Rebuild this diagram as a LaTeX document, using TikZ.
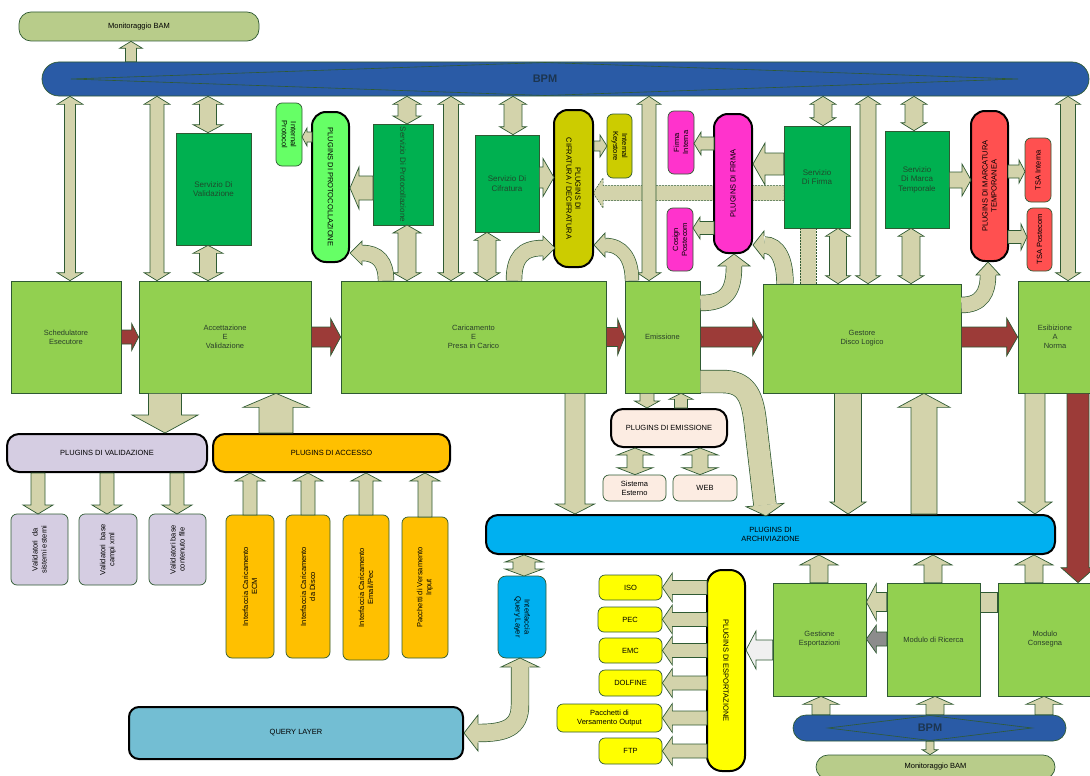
\documentclass[tikz,border=0pt]{standalone}
\usepackage{fontspec}
\setmainfont{Liberation Sans}
\usetikzlibrary{calc}
\definecolor{dkg}{HTML}{2F5A33}
\definecolor{tanc}{HTML}{D3D3AB}
\definecolor{redc}{HTML}{9C3B38}
\definecolor{procg}{HTML}{92D050}
\definecolor{servg}{HTML}{00B050}
\definecolor{monc}{HTML}{B8CC8A}
\definecolor{bpmc}{HTML}{2A5BA6}
\definecolor{lav}{HTML}{D5CDE2}
\definecolor{orng}{HTML}{FFC000}
\definecolor{peach}{HTML}{FCECE2}
\definecolor{archb}{HTML}{00B0F0}
\definecolor{qlb}{HTML}{73BED3}
\definecolor{mag}{HTML}{FF33CC}
\definecolor{redp}{HTML}{FF5050}
\definecolor{olive}{HTML}{CCCC00}
\definecolor{lgreen}{HTML}{66FF66}
\definecolor{yel}{HTML}{FFFF00}
\definecolor{greyarr}{HTML}{8C8C8C}
\definecolor{lgrey}{HTML}{F0F0F0}
\definecolor{txtg}{HTML}{2A3F2A}
\definecolor{txts}{HTML}{1F4A2C}
\definecolor{bpmtxt}{HTML}{1C3550}
% single block arrow: [opts]{from}{to}{half shaft}{half head}{head length}
\newcommand\blkA[6][]{%
 \path (#2) coordinate (bkA) (#3) coordinate (bkB);
 \path ($(bkB)!#6pt!(bkA)$) coordinate (bkHb);
 \filldraw[blk,#1] ($(bkA)!#4pt!90:(bkB)$) -- ($(bkHb)!#4pt!90:(bkB)$) -- ($(bkHb)!#5pt!90:(bkB)$) -- (bkB) -- ($(bkHb)!#5pt!-90:(bkB)$) -- ($(bkHb)!#4pt!-90:(bkB)$) -- ($(bkA)!#4pt!-90:(bkB)$) -- cycle;
}
% double block arrow
\newcommand\blkD[6][]{%
 \path (#2) coordinate (bkA) (#3) coordinate (bkB);
 \path ($(bkB)!#6pt!(bkA)$) coordinate (bkHb) ($(bkA)!#6pt!(bkB)$) coordinate (bkHa);
 \filldraw[blk,#1] (bkA) -- ($(bkHa)!#5pt!90:(bkB)$) -- ($(bkHa)!#4pt!90:(bkB)$) -- ($(bkHb)!#4pt!90:(bkB)$) -- ($(bkHb)!#5pt!90:(bkB)$) -- (bkB) -- ($(bkHb)!#5pt!-90:(bkB)$) -- ($(bkHb)!#4pt!-90:(bkB)$) -- ($(bkHa)!#4pt!-90:(bkB)$) -- ($(bkHa)!#5pt!-90:(bkB)$) -- cycle;
}
% head for a curved band: {base}{tip}{half shaft}{half head}
\newcommand\bhead[4]{%
 \path (#1) coordinate (bhB) (#2) coordinate (bhT);
 \fill[tanc] ($(bhB)!#4pt!90:(bhT)$) -- (bhT) -- ($(bhB)!#4pt!-90:(bhT)$) -- cycle;
 \draw[dkg, line width=0.7pt] ($(bhB)!#3pt!90:(bhT)$) -- ($(bhB)!#4pt!90:(bhT)$) -- (bhT) -- ($(bhB)!#4pt!-90:(bhT)$) -- ($(bhB)!#3pt!-90:(bhT)$);
}
\tikzset{
 base/.style={align=center, inner sep=0pt, line width=0.7pt, draw=dkg, text=black},
 sz/.style 2 args={minimum width=#1pt, minimum height=#2pt},
 proc/.style={base, fill=procg, text=txtg},
 serv/.style={base, fill=servg, text=txts, font=\fontsize{8}{9.5}\selectfont},
 rsm/.style={base, rounded corners=6pt},
 plug/.style={base, draw=black, line width=2pt, rounded corners=#1pt},
 plug/.default=14,
 mon/.style={base, fill=monc, rounded corners=12pt},
 bpmbar/.style={base, fill=bpmc, rounded corners=17pt},
 bpmlab/.style={inner sep=0pt, text=bpmtxt, font=\bfseries\fontsize{11}{12}\selectfont},
 blk/.style={fill=tanc, draw=dkg, line width=0.7pt},
 redblk/.style={fill=redc},
 dashblk/.style={dash pattern=on 2pt off 1pt, line width=0.5pt},
 band/.style={draw=dkg, line width=0.7pt, double=tanc, double distance=#1pt},
}
\begin{document}
\begin{tikzpicture}[x=1pt,y=-1pt, font=\fontsize{7.5}{9}\selectfont]
\useasboundingbox (0,0) rectangle (1090,776);
\clip (0,0) rectangle (1090,776);

% dashed connectors (under the nodes)
\blkA[dashblk]{784,193}{593,193}{7.5}{15}{10}
\filldraw[blk,dashblk] (800,228) rectangle (816,284);

% ---------- top ----------
\node[mon, sz={240}{29}] (mon1) at (139,26.5) {Monitoraggio BAM};
\node[bpmbar, sz={1047}{34}] (bpm1) at (565.5,79) {};
\draw[dkg, line width=0.6pt] (71,79) -- (545,62.5) -- (1018,79) -- (545,95.5) -- cycle;
\node[bpmlab] (bpmt1) at (545,78.5) {BPM};

\node[serv, sz={75}{112}] (valsrv) at (213.5,189) {Servizio Di\\Validazione};
\node[rsm, fill=lgreen, rotate=-90, sz={63}{26}] (intprot) at (289,134.5) {Internal\\Protocol};
\node[plug, fill=lgreen, rotate=-90, sz={150}{37}] (plugproto) at (330.5,187) {PLUGINS DI PROTOCOLLAZIONE};
\node[serv, rotate=-90, sz={101}{60}] (servprot) at (403,174.5) {Servizio Di Protocollazione};
\node[serv, sz={64}{97}] (servcif) at (507,183.5) {Servizio Di\\Cifratura};
\node[plug, fill=olive, rotate=-90, sz={157}{39}] (plugcif) at (573.5,188.5) {PLUGINS DI\\CIFRATURA / DECIFRATURA};
\node[rsm, fill=olive, rotate=-90, sz={64}{25}] (keystore) at (619.5,146) {Internal\\Keystore};
\node[rsm, fill=mag, rotate=90, sz={63}{26}] (firmaint) at (681,142.5) {Firma\\Interna};
\node[rsm, fill=mag, rotate=90, sz={63}{26}] (cosign) at (680,239.5) {Cosign\\Postecom};
\node[plug, fill=mag, rotate=90, sz={139}{38}] (plugfirma) at (733,183.5) {PLUGINS DI FIRMA};
\node[serv, sz={66}{102}] (servfirma) at (817,177) {Servizio\\Di Firma};
\node[serv, sz={64}{97}] (servmarca) at (917,179.5) {Servizio\\Di Marca\\Temporale};
\node[plug, fill=redp, rotate=90, sz={150}{37}] (plugmarca) at (989.5,186) {PLUGINS DI MARCATURA\\TEMPORANEA};
\node[rsm, fill=redp, rotate=90, sz={64}{26}] (tsaint) at (1038,170) {TSA Interna};
\node[rsm, fill=redp, rotate=90, sz={63}{25}] (tsapost) at (1039.5,239.5) {TSA Postecom};

% ---------- middle row ----------
\node[proc, sz={110}{112}] (sched) at (66,337) {Schedulatore\\Esecutore};
\node[proc, sz={172}{112}] (accet) at (225,337) {Accettazione\\E\\Validazione};
\node[proc, sz={265}{112}] (caric) at (473.5,337) {Caricamento\\E\\Presa in Carico};
\node[proc, sz={75}{112}] (emis) at (662.5,337) {Emissione};
\node[proc, sz={198}{109}] (gestore) at (862,338.5) {Gestore\\Disco Logico};
\node[proc, sz={74}{112}] (esib) at (1055,337) {Esibizione\\A\\Norma};

% ---------- lower left ----------
\node[plug=12, fill=lav, sz={200}{38}] (plugval) at (107,453) {PLUGINS DI VALIDAZIONE};
\node[plug=12, fill=orng, sz={237}{38}] (plugacc) at (331.5,453) {PLUGINS DI ACCESSO};
\node[rsm, fill=lav, rotate=90, sz={71}{57}] (val1) at (39.5,549.5) {Validatori\ \ da\\sistemi esterni};
\node[rsm, fill=lav, rotate=90, sz={71}{58}] (val2) at (108,549.5) {Validatori\ \ base\\campi xml};
\node[rsm, fill=lav, rotate=90, sz={71}{57}] (val3) at (177.5,549.5) {Validatori base\\contenuto file};
\node[rsm, fill=orng, rotate=90, sz={143}{48}] (ecm) at (250,586.5) {Interfaccia Caricamento\\ECM};
\node[rsm, fill=orng, rotate=90, sz={143}{44}] (disco) at (308,586.5) {Interfaccia Caricamento\\da Disco};
\node[rsm, fill=orng, rotate=90, sz={145}{46}] (email) at (366,587.5) {Interfaccia Caricamento\\Email/Pec};
\node[rsm, fill=orng, rotate=90, sz={141}{46}] (pacin) at (425,587.5) {Pacchetti di Versamento\\Input};

% ---------- lower middle ----------
\node[plug=12, fill=peach, sz={116}{38}] (plugemis) at (669,428) {PLUGINS DI EMISSIONE};
\node[rsm, fill=peach, sz={63}{26}] (sisest) at (634.5,488) {Sistema\\Esterno};
\node[rsm, fill=peach, sz={64}{26}] (web) at (705,488) {WEB};
\node[plug=12, fill=archb, sz={569}{39}] (plugarch) at (770.5,534.5) {PLUGINS DI\\ARCHIVIAZIONE};
\node[rsm, fill=archb, rotate=-90, sz={82}{48}, rounded corners=8pt] (intql) at (522,617) {Interfaccia\\Query Layer};
\node[plug=10, fill=qlb, sz={334}{52}] (queryl) at (296,733) {QUERY LAYER};

% ---------- lower right ----------
\node[rsm, fill=yel, sz={63}{25}] (iso) at (630.5,587.5) {ISO};
\node[rsm, fill=yel, sz={64}{25}] (pec) at (630,619.5) {PEC};
\node[rsm, fill=yel, sz={63}{25}] (emc) at (630.5,650.5) {EMC};
\node[rsm, fill=yel, sz={63}{26}] (dolfine) at (630.5,683) {DOLFINE};
\node[rsm, fill=yel, sz={105}{28}] (pacout) at (609.5,718) {Pacchetti di\\Versamento Output};
\node[rsm, fill=yel, sz={63}{26}] (ftp) at (630.5,751) {FTP};
\node[plug=15, fill=yel, rotate=-90, sz={201}{38}] (plugexp) at (726,670.5) {PLUGINS DI ESPORTAZIONE};
\node[proc, sz={93}{113}] (gestexp) at (819.5,639.5) {Gestione\\Esportazioni};
\node[proc, sz={93}{113}] (ricerca) at (933.5,639.5) {Modulo di Ricerca};
\node[proc, sz={94}{113}] (consegna) at (1045,639.5) {Modulo\\Consegna};
\node[bpmbar, sz={273}{26}, rounded corners=13pt] (bpm2) at (929.5,728) {};
\draw[dkg, line width=0.6pt] (828,728) -- (930,715.5) -- (1032,728) -- (930,740.5) -- cycle;
\node[bpmlab] (bpmt2) at (930,728) {BPM};
\node[mon, sz={239}{24}] (mon2) at (935.5,767) {Monitoraggio BAM};

% ---------- top connectors ----------
\blkA{bpm1.north -| 131,0}{mon1.south -| 131,0}{5.5}{11.5}{7}
\blkD{bpm1.south -| 70,0}{sched.north -| 70,0}{5.5}{13}{8}
\blkD{bpm1.south -| 157,0}{accet.north -| 157,0}{7}{13}{8}
\blkD{bpm1.south -| 208,0}{valsrv.north -| 208,0}{8.5}{15}{8}
\blkD{valsrv.south -| 208,0}{accet.north -| 208,0}{8.5}{15}{8}
\blkA{312,137}{302,137}{5}{9}{5}
\blkA{373,188}{350,188}{12}{21}{9}
\blkD{bpm1.south -| 407,0}{407,124}{9}{14}{8}
\blkD{407,225}{caric.north -| 407,0}{9}{14}{8}
\blkD{bpm1.south -| 451,0}{caric.north -| 451,0}{7.5}{13}{8}
\blkD{bpm1.south -| 513,0}{servcif.north -| 513,0}{9}{13.5}{8}
\blkD{servcif.south -| 487,0}{caric.north -| 487,0}{9}{13}{8}
\blkA{servcif.east |- 0,177.5}{554,177.5}{10.5}{19}{11}
\blkA{594,146}{607,146}{5}{11}{7}
\blkD{bpm1.south -| 649,0}{emis.north -| 649,0}{7}{12}{8}
\blkA{714,143.5}{694,143.5}{6.5}{11.5}{7}
\blkA{714,228}{693,228}{6.5}{11}{7}
\blkA{servfirma.west |- 0,164}{753,164}{11}{21}{12}
\blkD{bpm1.south -| 823,0}{servfirma.north -| 823,0}{9}{13}{8}
\blkD{servfirma.south -| 838,0}{gestore.north -| 838,0}{8.5}{12.5}{8}
\blkD{bpm1.south -| 868,0}{gestore.north -| 868,0}{8}{12.5}{8}
\blkD{bpm1.south -| 914,0}{servmarca.north -| 914,0}{9}{13}{8}
\blkD{servmarca.south -| 911,0}{gestore.north -| 911,0}{9}{13}{8}
\blkA{servmarca.east |- 0,180}{971,180}{8}{16}{9}
\blkA{1008,171.5}{1025,171.5}{6.5}{11.5}{6}
\blkA{1008,237}{1027,237}{6.5}{13}{6}
\blkD{bpm1.south -| 1068,0}{esib.north -| 1068,0}{7.5}{12.5}{8}

% curved bands into the plugins
\draw[band=15] (caric.north -| 386,0) .. controls (386,262) and (378,253) .. (362,253);
\bhead{362,253}{350,253}{8}{12}
\draw[band=15] (caric.north -| 514,0) .. controls (514,258) and (522,248) .. (543,248);
\bhead{543,248}{555,248}{8}{12}
\draw[band=13] (emis.north -| 632,0) .. controls (632,258) and (622,245) .. (605,245);
\bhead{605,245}{594,245}{7}{12}
\draw[band=15] (emis.east |- 0,303) .. controls (726,303) and (734,292) .. (734,266);
\bhead{734,266}{734,254}{8}{16}
\draw[band=16] (gestore.north -| 785,0) .. controls (785,260) and (778,245) .. (764,245);
\bhead{764,245}{753,245}{9}{14}
\draw[band=15] (gestore.east |- 0,305) .. controls (982,305) and (988,292) .. (988,275);
\bhead{988,275}{988,262}{8}{12}

% ---------- middle row connectors ----------
\blkA[redblk]{sched.east}{accet.west}{7}{13.5}{7}
\blkA[redblk]{accet.east}{caric.west}{10}{18.5}{10}
\blkA[redblk]{caric.east}{emis.west}{9.5}{18}{7}
\blkA[redblk]{emis.east}{gestore.west |- 0,337}{10}{18.5}{10}
\blkA[redblk]{gestore.east |- 0,337}{esib.west}{10}{19}{11}
\blkA[redblk]{esib.south -| 1078,0}{consegna.north -| 1078,0}{11}{17}{15}

% ---------- lower connectors ----------
\blkA{accet.south -| 165,0}{plugval.north -| 165,0}{16.5}{33}{18}
\blkA{plugacc.north -| 276,0}{accet.south -| 276,0}{17}{33}{14}
\blkA{plugval.south -| 38,0}{38,514}{7}{15}{9}
\blkA{plugval.south -| 107,0}{107,514}{7}{15}{9}
\blkA{plugval.south -| 177,0}{177,514}{7}{15}{9}
\blkA{250,515}{plugacc.south -| 250,0}{7}{15}{8}
\blkA{308,515}{plugacc.south -| 308,0}{7}{15}{8}
\blkA{366,515}{plugacc.south -| 366,0}{7}{15}{8}
\blkA{425,517}{plugacc.south -| 425,0}{7}{15}{8}

\blkA{emis.south -| 647,0}{plugemis.north -| 647,0}{7}{12.5}{7}
\blkA{plugemis.north -| 681,0}{emis.south -| 681,0}{6.5}{12}{6}
\blkD{plugemis.south -| 635,0}{sisest.north -| 635,0}{8}{18}{7}
\blkD{plugemis.south -| 700,0}{web.north -| 700,0}{8}{18}{7}
\blkA{caric.south -| 575,0}{plugarch.north -| 575,0}{10}{19.5}{10}
\blkA{gestore.south -| 848,0}{plugarch.north -| 848,0}{13.5}{18}{12}
\blkA{plugarch.north -| 924,0}{gestore.south -| 924,0}{13}{26}{14}
\blkA{esib.south -| 1035,0}{plugarch.north -| 1035,0}{10}{17}{12}
\draw[band=22] (emis.east |- 0,381.5) -- (722,381.5) .. controls (745,381.5) and (752,395) .. (755,420) -- (765,505);
\bhead{765,505}{766,516}{12}{19}
\blkD{plugarch.south -| 524,0}{524,576}{11}{19}{7}
\draw[band=17] (520,667) -- (520,705) .. controls (520,728) and (505,733) .. (478,733);
\bhead{520,667}{520,658}{9.5}{19}
\bhead{478,733}{464,733}{9.5}{18}

\blkA{gestexp.north -| 819,0}{plugarch.south -| 819,0}{9}{19}{10}
\blkA{ricerca.north -| 933,0}{plugarch.south -| 933,0}{9}{19}{10}
\blkA{consegna.north -| 1034,0}{plugarch.south -| 1034,0}{9}{19}{10}
\blkA{bpm2.north -| 821,0}{gestexp.south -| 821,0}{9}{18}{8}
\blkA{bpm2.north -| 935,0}{ricerca.south -| 935,0}{9}{18}{8}
\blkA{bpm2.north -| 1044,0}{consegna.south -| 1044,0}{9}{18}{8}
\blkA{bpm2.south -| 930,0}{mon2.north -| 930,0}{4}{8}{5}
\blkA{ricerca.west |- 0,602}{gestexp.east |- 0,602}{9.5}{18.5}{10}
\blkA[fill=greyarr]{ricerca.west |- 0,639}{gestexp.east |- 0,639}{7}{14}{10}
\filldraw[blk] (ricerca.east |- 0,592) rectangle (consegna.west |- 0,612);
\blkA[fill=lgrey]{gestexp.west |- 0,650}{746,650}{10}{19}{10}
\blkA{707,587.5}{iso.east}{7}{14.5}{10}
\blkA{707,619.5}{pec.east}{7}{14.5}{10}
\blkA{707,650.5}{emc.east}{7}{14.5}{10}
\blkA{707,683}{dolfine.east}{7}{14.5}{10}
\blkA{707,718}{pacout.east}{7}{14.5}{10}
\blkA{707,751}{ftp.east}{7}{14.5}{10}
\end{tikzpicture}
\end{document}
